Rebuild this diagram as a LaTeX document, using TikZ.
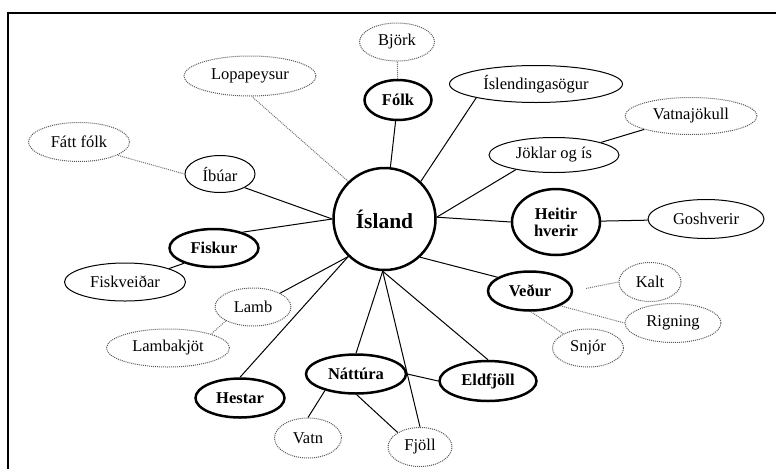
\documentclass[tikz,border=0pt]{standalone}
\usepackage{fontspec}
\setmainfont{Liberation Serif}
\usepackage{tikz}
\usetikzlibrary{shapes, positioning}
\tikzstyle{hub} = [circle, draw, line width=2.5pt, minimum size=102pt, inner sep=0pt,
  font=\fontsize{21.5}{24}\selectfont\bfseries]
\tikzstyle{topic} = [ellipse, draw, line width=2.5pt, inner sep=0pt, align=center,
  font=\fontsize{16.5}{17}\selectfont\bfseries]
\tikzstyle{leaf} = [ellipse, draw, line width=1pt, inner sep=0pt,
  font=\fontsize{16.5}{18}\selectfont]
\tikzstyle{idea} = [ellipse, draw=black!65, densely dotted, line width=1pt, inner sep=0pt,
  font=\fontsize{16.5}{18}\selectfont]
\tikzstyle{link} = [draw, line width=1pt]
\tikzstyle{dotlink} = [draw=black!55, densely dotted, line width=1pt]

\begin{document}
\begin{tikzpicture}[x=1pt, y=-1pt]

      \useasboundingbox (0,0) rectangle (776,469);
      \draw [line width=2pt] (776,12.5) -- (8,12.5) -- (8,469);

      %
      % Centre
      %

      \node [hub] (island) at (384.5,219) {Ísland};

      %
      % Upper half
      %

      \node [topic, minimum width=67pt, minimum height=40pt] (folk) at (398,100) {Fólk};
      \node [idea, minimum width=75pt, minimum height=38pt] (bjork) at (397,42) {Björk};
      \node [leaf, minimum width=173pt, minimum height=37pt] (sagas) at (536,84) {Íslendingasögur};
      \node [leaf, minimum width=130pt, minimum height=35pt] (joklar) at (554,155) {Jöklar og ís};
      \node [idea, minimum width=132pt, minimum height=37pt] (vatna) at (691,116) {Vatnajökull};
      \node [topic, minimum width=88pt, minimum height=66pt] (heitir) at (556,222) {Heitir\\hverir};
      \node [leaf, minimum width=116pt, minimum height=39pt] (gosh) at (706,219) {Goshverir};
      \node [idea, minimum width=132pt, minimum height=40pt] (lopa) at (250,76) {Lopapeysur};
      \node [idea, minimum width=101pt, minimum height=39pt] (fatt) at (79,142) {Fátt fólk};
      \node [leaf, minimum width=70pt, minimum height=37pt] (ibuar) at (220,174) {Íbúar};
      \node [topic, minimum width=89pt, minimum height=38pt] (fiskur) at (214,248) {Fiskur};
      \node [leaf, minimum width=121pt, minimum height=38pt] (fiskveidar) at (125,282) {Fiskveiðar};

      %
      % Lower half
      %

      \node [idea, minimum width=76pt, minimum height=38pt] (lamb) at (253,307) {Lamb};
      \node [idea, minimum width=123pt, minimum height=38pt] (lambakjot) at (168,348) {Lambakjöt};
      \node [topic, minimum width=89pt, minimum height=39pt] (hestar) at (240,398) {Hestar};
      \node [topic, minimum width=100pt, minimum height=39pt] (nattura) at (356,374) {Náttúra};
      \node [idea, minimum width=67pt, minimum height=40pt] (vatn) at (308,438) {Vatn};
      \node [idea, minimum width=64pt, minimum height=39pt] (fjoll) at (420,447) {Fjöll};
      \node [topic, minimum width=97pt, minimum height=40pt] (eldfjoll) at (488,381) {Eldfjöll};
      \node [topic, minimum width=84pt, minimum height=39pt] (vedur) at (530,291) {Veður};
      \node [idea, minimum width=62pt, minimum height=39pt] (kalt) at (650,282) {Kalt};
      \node [idea, minimum width=96pt, minimum height=39pt] (rigning) at (673,323) {Rigning};
      \node [idea, minimum width=71pt, minimum height=38pt] (snjor) at (588,348) {Snjór};

      \path [link] (island) -- (folk);
      \path [dotlink] (folk) -- (bjork);
      \path [link] (island.46) -- (sagas.193);
      \path [link] (island.2) -- (joklar.201);
      \path [link] (joklar.15) -- (vatna.196);
      \path [link] (island.2) -- (heitir.180);
      \path [link] (heitir) -- (gosh);
      \path [dotlink] (island.134) -- (lopa.275);
      \path [link] (island.180) -- (ibuar.331);
      \path [dotlink] (ibuar.180) -- (fatt.341);
      \path [link] (island.180) -- (fiskur.29);
      \path [link] (fiskur.207) -- (fiskveidar.17);

      \path [link] (island.226) -- (lamb.27);
      \path [dotlink] (lamb.207) -- (lambakjot.18);
      \path [link] (island.226) -- (hestar.90);
      \path [link] (island.268) -- (nattura.90);
      \path [link] (island.268) -- (fjoll.90);
      \path [link] (island.268) -- (eldfjoll.90);
      \path [link] (nattura.0) -- (eldfjoll.180);
      \path [link] (nattura.208) -- (vatn.90);
      \path [link] (nattura.272) -- (fjoll.147);
      \path [link] (island.313) -- (vedur.157);
      \path [dotlink, shorten <=13pt] (vedur.0) -- (kalt.180);
      \path [dotlink] (vedur.334) -- (rigning.180);
      \path [dotlink] (vedur.273) -- (snjor.150);

    \end{tikzpicture}
\end{document}
